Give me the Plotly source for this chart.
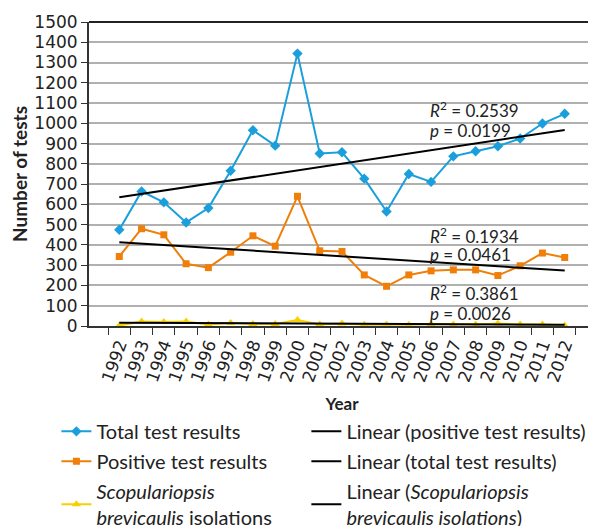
import numpy as np
import plotly.graph_objects as go

years = [str(y) for y in range(1992, 2013)]
total_tests = [475, 664, 610, 511, 582, 766, 966, 890, 1344, 851, 857, 727, 565, 750, 711, 837, 862, 887, 925, 999, 1047]
positive_tests = [343, 480, 450, 307, 288, 364, 445, 394, 640, 371, 368, 252, 196, 252, 272, 277, 277, 249, 297, 360, 338]
scop_isolations = [2, 22, 20, 22, 8, 15, 10, 10, 30, 8, 12, 6, 8, 6, 10, 8, 8, 12, 8, 8, 2]
y_ticks = list(range(0, 1501, 100))

stats = [("0.2539", "0.0199"), ("0.1934", "0.0461"), ("0.3861", "0.0026")]

FONT = "Lato"
TICKFONT = "DejaVu Sans"
TXT = "#222222"

def trend(vals):
    x = np.arange(len(vals))
    k, b = np.polyfit(x, vals, 1)
    return list(k * x + b)

fig = go.Figure()
fig.add_trace(go.Scatter(x=years, y=total_tests, name="Total test results", mode="lines+markers",
                         legend="legend", legendgroup="a",
                         line=dict(color="#1a9fdc", width=2), marker=dict(symbol="diamond", size=8, color="#1a9fdc")))
fig.add_trace(go.Scatter(x=years, y=positive_tests, name="Positive test results", mode="lines+markers",
                         legend="legend", legendgroup="b",
                         line=dict(color="#f07f0a", width=2), marker=dict(symbol="square", size=7, color="#f07f0a")))
fig.add_trace(go.Scatter(x=years, y=scop_isolations, name="<i>Scopulariopsis</i><br><i>brevicaulis</i> isolations",
                         mode="lines+markers", legend="legend", legendgroup="c",
                         line=dict(color="#f7d000", width=2), marker=dict(symbol="triangle-up", size=8, color="#f7d000")))
fig.add_trace(go.Scatter(x=years, y=trend(positive_tests), name="Linear (positive test results)", mode="lines",
                         legend="legend2", legendgroup="d", line=dict(color="black", width=2)))
fig.add_trace(go.Scatter(x=years, y=trend(total_tests), name="Linear (total test results)", mode="lines",
                         legend="legend2", legendgroup="e", line=dict(color="black", width=2)))
fig.add_trace(go.Scatter(x=years, y=trend(scop_isolations), name="Linear (<i>Scopulariopsis</i><br><i>brevicaulis isolations</i>)",
                         mode="lines", legend="legend2", legendgroup="f", line=dict(color="black", width=2)))

ann_y = [(1068, 964), (445, 352), (165, 62)]
for (r2, p), (yr, yp) in zip(stats, ann_y):
    fig.add_annotation(x=0.670, xref="paper", y=yr, yref="y", xanchor="left", yanchor="middle",
                       text=f"<i>R</i><sup>2</sup> = {r2}", showarrow=False, font=dict(size=17, color=TXT, family=FONT))
    fig.add_annotation(x=0.670, xref="paper", y=yp, yref="y", xanchor="left", yanchor="middle",
                       text=f"<i>p</i> = {p}", showarrow=False, font=dict(size=17, color=TXT, family=FONT))

leg_common = dict(orientation="v", yanchor="top", xanchor="left", font=dict(size=20, family=FONT, color=TXT),
                  itemwidth=30, tracegroupgap=1, bgcolor="rgba(0,0,0,0)")

# page body has an 8px margin: figure is sized/offset so the plot lands where the reference has it
fig.update_layout(
    width=588, height=526,
    margin=dict(l=81, r=1, t=14, b=208, autoexpand=False),
    paper_bgcolor="white", plot_bgcolor="white",
    font=dict(family=FONT, size=17, color=TXT),
    showlegend=True,
    legend=dict(x=-0.0644, y=-0.2824, **leg_common),
    legend2=dict(x=0.4296, y=-0.2824, **leg_common),
    xaxis=dict(type="category", tickson="boundaries", ticks="outside", ticklen=7, tickcolor="#333",
               tickangle=-70, showline=True, linecolor="#333", linewidth=2, mirror=False, automargin=False,
               showgrid=False, tickfont=dict(size=17, family=TICKFONT, color=TXT),
               title=dict(text="<b>Year</b>", font=dict(size=17, family=FONT, color=TXT), standoff=14)),
    yaxis=dict(range=[0, 1500], tickvals=y_ticks, ticks="outside", ticklen=6, tickcolor="#333", automargin=False,
               showline=True, linecolor="#333", linewidth=2, showgrid=True, gridcolor="#b0b0b0", gridwidth=1.5,
               zeroline=False, tickfont=dict(size=17, family=TICKFONT, color=TXT),
               title=dict(text="<b>Number of tests</b>", font=dict(size=19, family=FONT, color=TXT), standoff=6)),
)
# plot-area border on top and right
fig.add_shape(type="line", xref="paper", yref="paper", x0=0, x1=1, y0=1, y1=1, line=dict(color="#222", width=2))
fig.add_shape(type="line", xref="paper", yref="paper", x0=1, x1=1, y0=0, y1=1, line=dict(color="#222", width=1.5))

fig.write_html("out.html")
